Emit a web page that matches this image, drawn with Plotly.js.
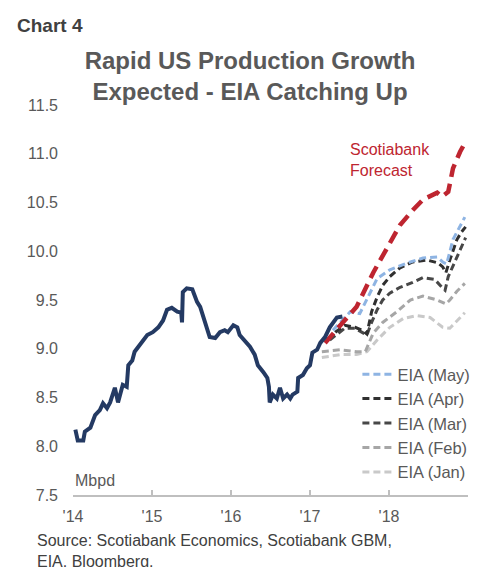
<!DOCTYPE html>
<html>
<head>
<meta charset="utf-8">
<script src="https://cdn.plot.ly/plotly-3.0.1.min.js"></script>
<style>
  html, body { margin: 0; padding: 0; background: #ffffff; }
  #chart { width: 497px; height: 567px; }
</style>
</head>
<body>
<div id="chart"></div>
<script>
// ---- Data (decimal years, million barrels per day) ----
const prodYears = [2014.03, 2014.06, 2014.13, 2014.15, 2014.22, 2014.28, 2014.34, 2014.38, 2014.43, 2014.47,
  2014.53, 2014.57, 2014.63, 2014.68, 2014.70, 2014.75, 2014.78, 2014.85, 2014.94, 2015.01,
  2015.08, 2015.14, 2015.19, 2015.25, 2015.32, 2015.37, 2015.38, 2015.39, 2015.44, 2015.51,
  2015.57, 2015.61, 2015.65, 2015.70, 2015.73, 2015.80, 2015.86, 2015.92, 2015.96, 2016.03,
  2016.08, 2016.11, 2016.18, 2016.24, 2016.30, 2016.34, 2016.41, 2016.46, 2016.48, 2016.49,
  2016.53, 2016.58, 2016.62, 2016.66, 2016.71, 2016.75, 2016.78, 2016.84, 2016.85, 2016.91,
  2016.96, 2017.00, 2017.03, 2017.09, 2017.13, 2017.19, 2017.25, 2017.34, 2017.41];
const prodValues = [8.17, 8.06, 8.06, 8.15, 8.19, 8.32, 8.37, 8.44, 8.39, 8.45,
  8.60, 8.45, 8.63, 8.61, 8.83, 8.88, 8.97, 9.05, 9.14, 9.17,
  9.22, 9.29, 9.40, 9.42, 9.38, 9.37, 9.27, 9.58, 9.62, 9.61,
  9.48, 9.43, 9.33, 9.19, 9.12, 9.11, 9.17, 9.19, 9.17, 9.24,
  9.22, 9.14, 9.08, 9.02, 8.94, 8.83, 8.76, 8.70, 8.61, 8.45,
  8.53, 8.49, 8.60, 8.49, 8.53, 8.49, 8.53, 8.56, 8.70, 8.73,
  8.80, 8.83, 8.96, 8.99, 9.06, 9.12, 9.22, 9.32, 9.33];

const scotiaYears = [2017.19, 2017.59, 2017.80, 2018.01, 2018.14, 2018.30, 2018.43, 2018.61, 2018.67, 2018.75, 2018.81, 2018.90, 2018.96];
const scotiaValues = [9.06, 9.43, 9.78, 10.08, 10.27, 10.42, 10.53, 10.60, 10.56, 10.61, 10.85, 11.02, 11.11];

const eiaMayYears = [2017.29, 2017.51, 2017.63, 2017.76, 2017.85, 2018.01, 2018.23, 2018.43, 2018.61, 2018.68, 2018.73, 2018.81, 2018.90, 2018.96];
const eiaMayValues = [9.19, 9.38, 9.36, 9.57, 9.72, 9.81, 9.88, 9.93, 9.94, 9.89, 9.87, 10.12, 10.25, 10.35];

const eiaAprYears = [2017.22, 2017.32, 2017.44, 2017.57, 2017.66, 2017.72, 2017.78, 2017.85, 2017.92, 2018.01, 2018.14, 2018.30, 2018.48, 2018.62, 2018.68, 2018.72, 2018.77, 2018.86, 2018.92, 2018.97];
const eiaAprValues = [9.09, 9.17, 9.24, 9.22, 9.19, 9.15, 9.38, 9.53, 9.65, 9.74, 9.83, 9.89, 9.91, 9.88, 9.84, 9.78, 9.91, 10.12, 10.20, 10.25];

const eiaMarYears = [2017.25, 2017.44, 2017.57, 2017.66, 2017.72, 2017.78, 2017.85, 2017.92, 2018.01, 2018.14, 2018.30, 2018.43, 2018.58, 2018.67, 2018.71, 2018.75, 2018.84, 2018.92, 2018.97];
const eiaMarValues = [9.09, 9.21, 9.21, 9.17, 9.14, 9.27, 9.40, 9.50, 9.57, 9.63, 9.68, 9.73, 9.71, 9.63, 9.60, 9.74, 9.91, 10.06, 10.14];

const eiaFebYears = [2017.15, 2017.38, 2017.59, 2017.70, 2017.80, 2017.92, 2018.10, 2018.27, 2018.43, 2018.61, 2018.72, 2018.77, 2018.86, 2018.96];
const eiaFebValues = [8.97, 8.99, 8.97, 8.97, 9.16, 9.27, 9.38, 9.50, 9.54, 9.50, 9.46, 9.50, 9.59, 9.67];

const eiaJanYears = [2017.15, 2017.38, 2017.59, 2017.72, 2017.85, 2018.01, 2018.18, 2018.35, 2018.52, 2018.68, 2018.77, 2018.86, 2018.96];
const eiaJanValues = [8.91, 8.94, 8.94, 8.97, 9.09, 9.22, 9.31, 9.34, 9.32, 9.22, 9.21, 9.29, 9.37];

const xTickVals = [2014, 2015, 2016, 2017, 2018, 2019];
const xTickText = ["'14", "'15", "'16", "'17", "'18", ""];
const yTickVals = [7.5, 8.0, 8.5, 9.0, 9.5, 10.0, 10.5, 11.0, 11.5];

// ---- Styling ----
const FONT = 'Liberation Sans, Arial, sans-serif';
const GREY_TEXT = '#595959';

function eiaTrace(name, xs, ys, color, dash, width) {
  return {
    type: 'scatter', mode: 'lines', name: name, x: xs, y: ys,
    legendgroup: name,
    line: { color: color, width: width, dash: dash },
    hoverinfo: 'skip'
  };
}

const traces = [
  eiaTrace('EIA (Jan)', eiaJanYears, eiaJanValues, '#C9C9C9', '7px,4px', 3),
  eiaTrace('EIA (Feb)', eiaFebYears, eiaFebValues, '#A6A6A6', '7px,4px', 3),
  eiaTrace('EIA (Mar)', eiaMarYears, eiaMarValues, '#474747', '7px,4px', 3),
  eiaTrace('EIA (Apr)', eiaAprYears, eiaAprValues, '#303030', '7px,4px', 3),
  eiaTrace('EIA (May)', eiaMayYears, eiaMayValues, '#8EB4E3', '7px,4px', 3),
  {
    type: 'scatter', mode: 'lines', name: 'Scotiabank Forecast',
    x: scotiaYears, y: scotiaValues, showlegend: false,
    line: { color: '#BE2530', width: 4.5, dash: '13px,7px' },
    hoverinfo: 'skip'
  },
  {
    type: 'scatter', mode: 'lines', name: 'US Production',
    x: prodYears, y: prodValues, showlegend: false,
    line: { color: '#243A63', width: 4 },
    hoverinfo: 'skip'
  }
];

const layout = {
  width: 497, height: 567,
  paper_bgcolor: '#ffffff', plot_bgcolor: '#ffffff',
  margin: { l: 73, r: 29, t: 105, b: 72, pad: 0 },
  font: { family: FONT, size: 16, color: GREY_TEXT },
  title: {
    text: '<b>Rapid US Production Growth<br>Expected - EIA Catching Up</b>',
    font: { family: FONT, size: 24, color: GREY_TEXT },
    xref: 'container', yref: 'container',
    x: 0.503, xanchor: 'center', y: 0.879, yanchor: 'middle'
  },
  showlegend: true,
  legend: {
    x: 0.72, xanchor: 'left', y: 0.354, yanchor: 'top',
    bgcolor: 'rgba(0,0,0,0)', borderwidth: 0,
    traceorder: 'reversed', tracegroupgap: 6,
    font: { family: FONT, size: 16.5, color: GREY_TEXT }
  },
  xaxis: {
    range: [2014, 2019], tickmode: 'array', tickvals: xTickVals, ticktext: xTickText,
    showgrid: false, zeroline: false, showline: true, linecolor: '#BFBFBF', linewidth: 1.5,
    ticks: 'inside', ticklen: 5, tickcolor: '#BFBFBF', tickwidth: 1.5,
    ticklabelstandoff: 6,
    tickfont: { family: FONT, size: 16, color: GREY_TEXT }, fixedrange: true
  },
  yaxis: {
    range: [7.5, 11.5], tickmode: 'array', tickvals: yTickVals, tickformat: '.1f',
    showgrid: false, zeroline: false, showline: false, ticks: '',
    ticklabelstandoff: 14,
    tickfont: { family: FONT, size: 16, color: GREY_TEXT }, fixedrange: true
  },
  annotations: [
    {
      text: '<b>Chart 4</b>', xref: 'paper', yref: 'paper',
      x: -0.147, y: 1.205, xanchor: 'left', yanchor: 'middle', showarrow: false,
      font: { family: FONT, size: 19, color: '#404040' }
    },
    {
      text: 'Scotiabank<br>Forecast', xref: 'x', yref: 'y',
      x: 2017.48, y: 10.94, xanchor: 'left', yanchor: 'middle', align: 'left', showarrow: false,
      font: { family: FONT, size: 16, color: '#BE2530' }
    },
    {
      text: 'Mbpd', xref: 'paper', yref: 'paper',
      x: 0.0, y: 0.036, xanchor: 'left', yanchor: 'middle', showarrow: false,
      font: { family: FONT, size: 16, color: GREY_TEXT }
    },
    {
      text: 'Source: Scotiabank Economics, Scotiabank GBM,<br>EIA, Bloomberg.',
      xref: 'paper', yref: 'paper',
      x: -0.096, y: -0.09, xanchor: 'left', yanchor: 'top', align: 'left', showarrow: false,
      font: { family: FONT, size: 16, color: '#404040' }
    }
  ]
};

Plotly.newPlot('chart', traces, layout, { staticPlot: true, displayModeBar: false });
</script>
</body>
</html>
